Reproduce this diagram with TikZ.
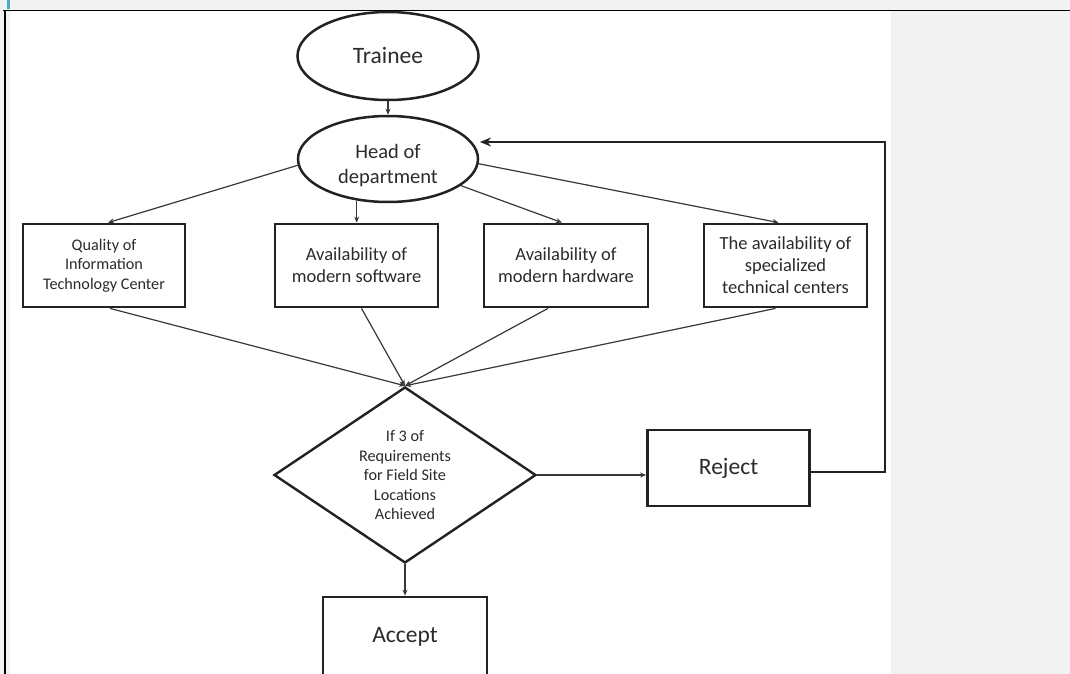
\documentclass[tikz,border=0pt]{standalone}
\usepackage{fontspec}
\setmainfont{Carlito}
\usetikzlibrary{shapes.geometric,arrows.meta,calc}
\definecolor{bggray}{HTML}{F2F2F2}
\definecolor{teal1}{HTML}{4BACC6}
\definecolor{ink}{HTML}{222222}
\definecolor{txt}{HTML}{2B2B2B}
\begin{document}
\begin{tikzpicture}[x=1pt,y=-1pt,
  oval/.style={ellipse, draw=ink, line width=2.5pt, fill=white, text=txt, align=center, inner sep=0pt},
  box/.style={rectangle, draw=ink, line width=2.8pt, fill=white, text=txt, align=center, inner sep=0pt},
  dia/.style={diamond, draw=ink, line width=2.4pt, fill=white, text=txt, align=center, inner sep=0pt, aspect=1.49},
  conn/.style={draw=ink!90, line width=1.2pt, -{Stealth[length=6pt,width=5pt]}},
  fb/.style={draw=ink, line width=2.6pt, -{Stealth[length=11pt,width=9pt]}},
  frameline/.style={draw=black, line width=1.8pt},
  big/.style={font=\fontsize{23.5}{28}\selectfont},
  mid/.style={font=\fontsize{18.5}{22}\selectfont},
  small/.style={font=\fontsize{16.2}{19.5}\selectfont}
]
\clip (0,0) rectangle (1070,674);
\fill[bggray] (0,0) rectangle (1070,674);
\fill[white] (10,10) rectangle (891,674);
\fill[teal1] (7,0) rectangle (10,9);
\draw[frameline] (3,10.5) -- (1070,10.5);
\draw[frameline] (5,10) -- (5,674);

% nodes
\node[oval, big, minimum width=181pt, minimum height=88pt] (trainee) at (388,56) {Trainee};
\node[oval, font=\fontsize{20.5}{25}\selectfont, minimum width=180pt, minimum height=86pt] (head) at (388,159)
  {\raisebox{-12pt}[0pt][0pt]{\begin{tabular}{@{}c@{}}Head of\\department\end{tabular}}};

\node[box, small, minimum width=162pt, minimum height=83pt] (box1) at (104,265.5) {Quality of\\Information\\Technology Center};
\node[box, mid, minimum width=163pt, minimum height=83pt] (box2) at (356.5,265.5) {Availability of\\modern software};
\node[box, mid, minimum width=164pt, minimum height=83pt] (box3) at (566,265.5) {Availability of\\modern hardware};
\node[box, mid, minimum width=163pt, minimum height=83pt] (box4) at (785.5,265.5) {The availability of\\specialized\\technical centers};

\node[dia, small, minimum width=262pt, minimum height=176pt] (dia) at (405,475) {If 3 of\\Requirements\\for Field Site\\Locations\\Achieved};

\node[box, big, minimum width=162pt, minimum height=76pt] (reject) at (728.5,468) {Reject};
\node[box, big, minimum width=164pt, minimum height=80pt] (accept) at (405,637) {Accept};

% connectors
\draw[conn] (trainee) -- (head);
\draw[conn] (head.184) -- ([xshift=4pt]box1.north);
\draw[conn] (head.233) -- (head.233 |- box2.north);
\draw[conn] (head) -- ([xshift=-4pt]box3.north);
\draw[conn] (head.357) -- ([xshift=-7pt]box4.north);

\draw[conn] ([xshift=6pt]box1.south) -- (dia.north);
\draw[conn] ([xshift=5pt]box2.south) -- (dia.north);
\draw[conn] ([xshift=-18pt]box3.south) -- (dia.north);
\draw[conn] ([xshift=-10pt]box4.south) -- (dia.north);

\draw[conn] (dia.east) -- (dia.east -| reject.west);
\draw[conn] (dia.south) -- (accept.north);

\coordinate (loopcorner) at (885,142);
\coordinate (fbend) at (480,142);
\draw[fb] ([yshift=-4pt]reject.east) -| (loopcorner) -- (fbend);
\end{tikzpicture}
\end{document}
